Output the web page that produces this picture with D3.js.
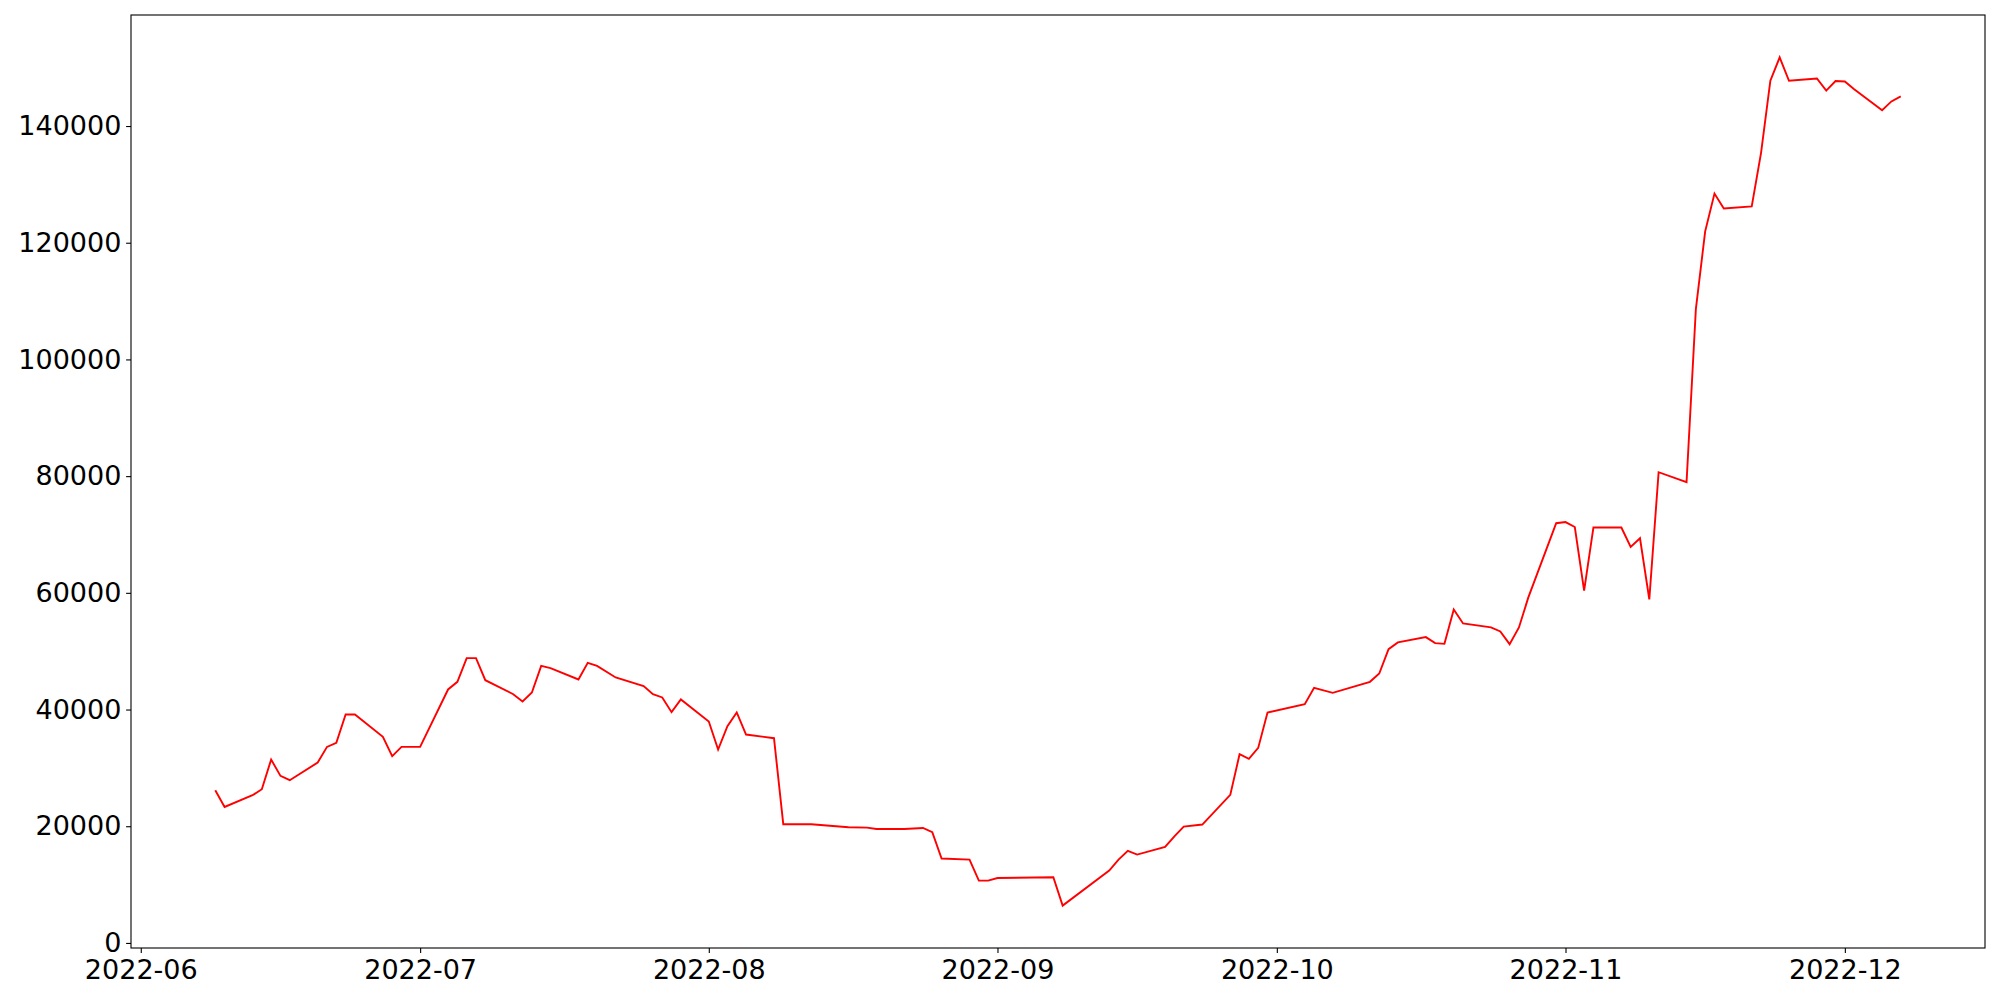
<!DOCTYPE html>
<meta charset="utf-8">
<script src="https://d3js.org/d3.v7.min.js"></script>
<style>
  body { margin: 0; background: #fff; }
  .axis text { font-family: "DejaVu Sans", sans-serif; font-size: 27px; fill: #000; }
  .axis line { stroke: #000; stroke-width: 1.1; }
</style>
<body>
<div id="chart"></div>
</body>
<script>
// daily values (weekdays, some days missing)
var dates = [
  "2022-06-09","2022-06-10","2022-06-13","2022-06-14","2022-06-15","2022-06-16","2022-06-17",
  "2022-06-20","2022-06-21","2022-06-22","2022-06-23","2022-06-24","2022-06-27","2022-06-28",
  "2022-06-29","2022-07-01","2022-07-04","2022-07-05","2022-07-06","2022-07-07","2022-07-08",
  "2022-07-11","2022-07-12","2022-07-13","2022-07-14","2022-07-15","2022-07-18","2022-07-19",
  "2022-07-20","2022-07-22","2022-07-25","2022-07-26","2022-07-27","2022-07-28","2022-07-29",
  "2022-08-01","2022-08-02","2022-08-03","2022-08-04","2022-08-05","2022-08-08","2022-08-09",
  "2022-08-12","2022-08-16","2022-08-18","2022-08-19","2022-08-22","2022-08-24","2022-08-25",
  "2022-08-26","2022-08-29","2022-08-30","2022-08-31","2022-09-01","2022-09-07","2022-09-08",
  "2022-09-13","2022-09-14","2022-09-15","2022-09-16","2022-09-19","2022-09-20","2022-09-21",
  "2022-09-23","2022-09-26","2022-09-27","2022-09-28","2022-09-29","2022-09-30","2022-10-04",
  "2022-10-05","2022-10-07","2022-10-11","2022-10-12","2022-10-13","2022-10-14","2022-10-17",
  "2022-10-18","2022-10-19","2022-10-20","2022-10-21","2022-10-24","2022-10-25","2022-10-26",
  "2022-10-27","2022-10-28","2022-10-31","2022-11-01","2022-11-02","2022-11-03","2022-11-04",
  "2022-11-07","2022-11-08","2022-11-09","2022-11-10","2022-11-11","2022-11-14","2022-11-15",
  "2022-11-16","2022-11-17","2022-11-18","2022-11-21","2022-11-22","2022-11-23","2022-11-24",
  "2022-11-25","2022-11-28","2022-11-29","2022-11-30","2022-12-01","2022-12-02","2022-12-05",
  "2022-12-06","2022-12-07"
];
var values = [
  26170,23300,25310,26340,31430,28630,27890,
  30920,33600,34290,39150,39150,35320,32000,
  33600,33600,43440,44750,48810,48810,45030,
  42630,41380,42920,47490,47090,45150,48000,
  47490,45500,44030,42630,42070,39550,41730,
  37950,33150,37150,39500,35720,35090,20340,
  20340,19820,19770,19530,19530,19700,18970,
  14460,14280,10680,10680,11130,11250,6400,
  12400,14280,15770,15140,16450,18280,19940,
  20290,25370,32340,31540,33430,39490,40920,
  43720,42860,44750,46180,50350,51500,52410,
  51380,51260,57160,54760,54070,53390,51210,
  54060,59180,71930,72130,71280,60390,71200,
  71200,67860,69350,58890,80670,78960,108640,
  121950,128420,125860,126220,135400,147780,151760,
  147760,148140,146070,147710,147640,146300,142720,
  144220,145070
];
var yTicks = [0, 20000, 40000, 60000, 80000, 100000, 120000, 140000];

var parse = d3.utcParse("%Y-%m-%d");
var data = dates.map(function(d, i) { return { date: parse(d), value: values[i] }; });

var W = 2000, H = 1000;
var margin = { top: 15, right: 15, bottom: 52, left: 131 };
var width = W - margin.left - margin.right,
    height = H - margin.top - margin.bottom;

var svg = d3.select("#chart")
    .append("svg")
    .attr("width", W)
    .attr("height", H)
  .append("g")
    .attr("transform", "translate(" + margin.left + "," + margin.top + ")");

// 5% padding on both axes, like matplotlib's default margins
var xExt = d3.extent(data, function(d) { return d.date; });
var xPad = (xExt[1] - xExt[0]) * 0.05;
var x = d3.scaleUtc()
    .domain([new Date(+xExt[0] - xPad), new Date(+xExt[1] + xPad)])
    .range([0, width]);

var yExt = d3.extent(data, function(d) { return d.value; });
var yPad = (yExt[1] - yExt[0]) * 0.05;
var y = d3.scaleLinear()
    .domain([yExt[0] - yPad, yExt[1] + yPad])
    .range([height, 0]);

// axes
svg.append("g")
    .attr("class", "axis")
    .attr("transform", "translate(0," + height + ")")
    .call(d3.axisBottom(x)
      .ticks(d3.utcMonth.every(1))
      .tickFormat(d3.utcFormat("%Y-%m"))
      .tickSize(4.9)
      .tickSizeOuter(0)
      .tickPadding(7))
    .call(function(g) { g.select(".domain").remove(); });

svg.append("g")
    .attr("class", "axis")
    .call(d3.axisLeft(y)
      .tickValues(yTicks)
      .tickFormat(d3.format("d"))
      .tickSize(4.9)
      .tickSizeOuter(0)
      .tickPadding(4.7))
    .call(function(g) { g.select(".domain").remove(); });

// the line
var line = d3.line()
    .x(function(d) { return x(d.date); })
    .y(function(d) { return y(d.value); });

svg.append("path")
    .datum(data)
    .attr("fill", "none")
    .attr("stroke", "red")
    .attr("stroke-width", 1.9)
    .attr("stroke-linejoin", "miter")
    .attr("d", line);

// frame
svg.append("rect")
    .attr("x", 0)
    .attr("y", 0)
    .attr("width", width)
    .attr("height", height)
    .attr("fill", "none")
    .attr("stroke", "#000")
    .attr("stroke-width", 1.1);
</script>
